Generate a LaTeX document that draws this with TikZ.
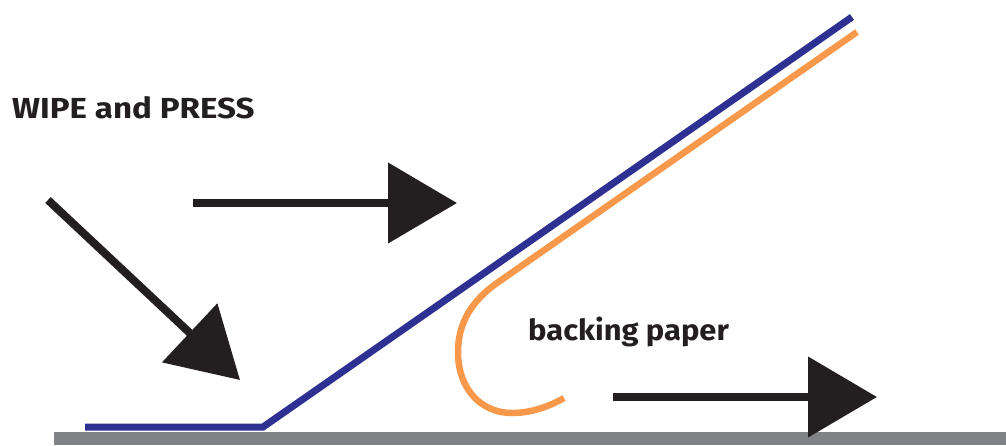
\documentclass[tikz,border=0pt]{standalone}
\usepackage{fontspec}
\setmainfont{Fira Sans}
\usetikzlibrary{arrows.meta}
\definecolor{filmblue}{HTML}{2E3192}
\definecolor{paperorange}{HTML}{F7984A}
\definecolor{groundgray}{HTML}{808285}
\definecolor{inkblack}{HTML}{231F20}
\tikzset{
  bigarrow/.style={draw=inkblack, line width=8pt, -{Triangle[length=69pt,width=79pt]}, fill=inkblack},
  label/.style={font=\fontsize{29}{35}\selectfont\bfseries, text=inkblack, inner sep=0pt, anchor=base west},
}
\begin{document}
\begin{tikzpicture}[x=1pt,y=-1pt]
\useasboundingbox (0,0) rectangle (1006,445);
% ground
\fill[groundgray] (54,432) rectangle (1006,445);
% coordinates
\coordinate (b0) at (85,427);
\coordinate (b1) at (263,427);
\coordinate (b2) at (852,17);
\coordinate (o0) at (857,32);
\coordinate (o1) at (497,283);
\coordinate (o2) at (458,352);
\coordinate (o3) at (512,413);
\coordinate (o4) at (564,398);
% backing paper
\draw[paperorange, line width=6.5pt] (o0) -- (o1) .. controls (470,302) and (458,325) .. (o2)
  .. controls (458,390) and (482,413) .. (o3) .. controls (532,413) and (550,406) .. (o4);
% film
\draw[filmblue, line width=7pt, line join=miter] (b0) -- (b1) -- (b2);
% arrows
\coordinate (a1s) at (48,200);
\coordinate (a1e) at (240,380);
\coordinate (a2s) at (193,203);
\coordinate (a2e) at (457,203);
\coordinate (a3s) at (613,397);
\coordinate (a3e) at (877,397);
\draw[bigarrow] (a1s) -- (a1e);
\draw[bigarrow] (a2s) -- (a2e);
\draw[bigarrow] (a3s) -- (a3e);
% labels
\node[label] (wipe) at (12,118) {\scalebox{1.14}[1]{WIPE and PRESS}};
\node[label] (backing) at (528,340) {\scalebox{1.065}[1]{backing paper}};
\end{tikzpicture}
\end{document}
